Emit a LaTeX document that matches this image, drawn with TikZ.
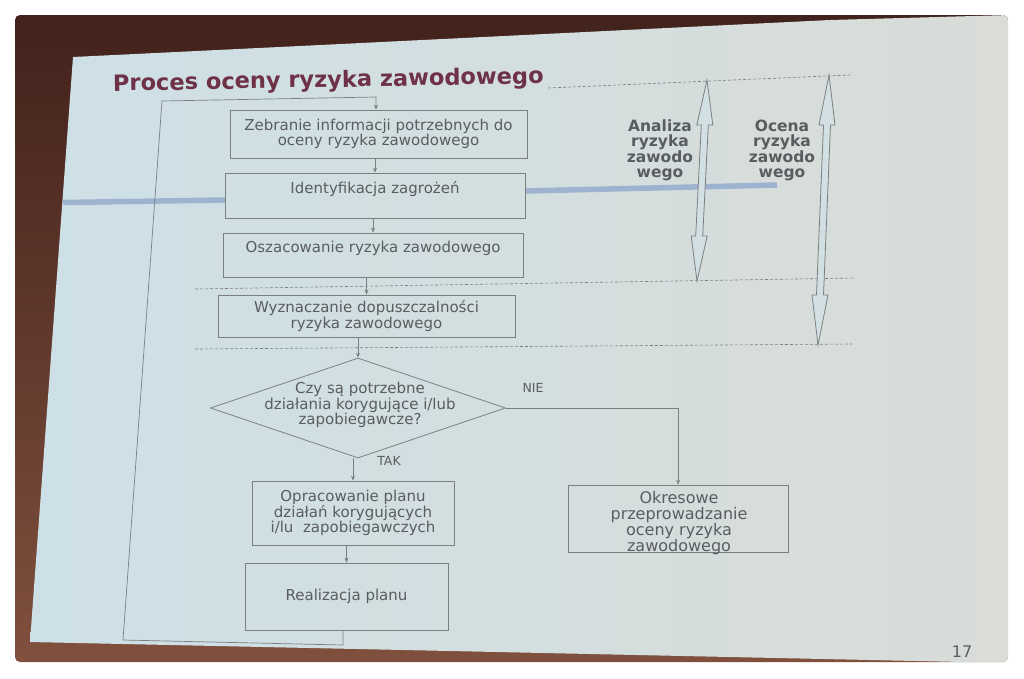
\documentclass[tikz,border=0pt]{standalone}
\usepackage{fontspec}
\setmainfont{DejaVu Sans}
\usetikzlibrary{shapes.geometric,arrows.meta}
\definecolor{brownTop}{HTML}{42221C}
\definecolor{brownBot}{HTML}{80503D}
\definecolor{slideL}{HTML}{CDE0E7}
\definecolor{slideR}{HTML}{D9DCD7}
\definecolor{arrFill}{HTML}{D3E0E3}
\definecolor{lineC}{HTML}{7B7F80}
\definecolor{txtC}{HTML}{5A5D5F}
\definecolor{titleC}{HTML}{6E3147}
\definecolor{bandC}{HTML}{9DB3CF}
\newcommand\bxf{\fontsize{15}{15.5}\selectfont}
\newcommand\okf{\fontsize{16}{16}\selectfont}
\newcommand\lblf{\fontsize{15.5}{15}\selectfont\bfseries}
\newcommand\smf{\fontsize{12.5}{13}\selectfont}
\begin{document}
\begin{tikzpicture}[x=1pt,y=-1pt,
  box/.style={draw=lineC, line width=0.8pt, text=txtC, font=\bxf, inner sep=0pt},
  mbox/.style={box, align=center},
  conn/.style={draw=lineC, line width=0.7pt, -{Stealth[length=5pt,width=4pt]}},
  dashln/.style={draw=lineC, line width=0.6pt, dash pattern=on 3pt off 2pt},
  hollow/.style={draw=lineC, line width=0.8pt, fill=arrFill},
  band/.style={draw=bandC, line width=5.5pt},
  side/.style={text=txtC, font=\lblf, align=center, inner sep=0pt},
  tag/.style={text=txtC, font=\smf, inner sep=0pt}]
\useasboundingbox (0,0) rectangle (1024,678);
\fill[white] (0,0) rectangle (1024,678);
\begin{scope}
  \clip[rounded corners=5pt] (15,15) rectangle (1008,662);
  \shade[top color=brownTop, bottom color=brownBot] (15,15) rectangle (1008,662);
  \shade[left color=slideL, right color=slideR] (73,57) -- (300,46) -- (830,20) -- (1010,15) -- (1010,663) -- (30,642) -- cycle;
\end{scope}
% title
\node[anchor=base west, text=titleC, font=\fontsize{22.5}{22.5}\selectfont\bfseries, inner sep=0pt, rotate=1] (title) at (113,91) {Proces oceny ryzyka zawodowego};
% blue band
\draw[band] (63,202.5) -- (225,200);
\draw[band] (525,191) -- (777,185);
% dashed lines
\draw[dashln] (548,88) -- (850,75);
\draw[dashln] (195,289) -- (855,278);
\draw[dashln] (195,349) -- (852,344);
% double arrows
\draw[hollow] (707,80) -- (712.8,125) -- (708.3,125) -- (702.7,236) -- (707.2,236) -- (697,281) -- (691.2,236) -- (695.7,236) -- (701.3,125) -- (696.8,125) -- cycle;
\draw[hollow] (829,75) -- (835,125) -- (830.5,125) -- (823.5,295) -- (828,295) -- (818,345) -- (812,295) -- (816.5,295) -- (823.5,125) -- (819,125) -- cycle;
\node[side] (an) at (660,150) {Analiza\\ryzyka\\zawodo\\wego};
\node[side] (oc) at (782,150) {Ocena\\ryzyka\\zawodo\\wego};
% boxes
\node[mbox, minimum width=297pt, minimum height=48pt] (b1) at (378.5,134) {Zebranie informacji potrzebnych do\\oceny ryzyka zawodowego};
\node[box, minimum width=300pt, text height=20pt, text depth=25pt] (b2) at (375,195.5) {Identyfikacja zagrożeń};
\node[box, minimum width=300pt, text height=19pt, text depth=25pt] (b3) at (373,255) {Oszacowanie ryzyka zawodowego};
\node[mbox, minimum width=297pt, minimum height=42pt] (b4) at (366.5,316) {Wyznaczanie dopuszczalności\\ryzyka zawodowego};
\node[draw=lineC, line width=0.8pt, diamond, aspect=2.95, minimum width=295pt, minimum height=100pt, inner sep=0pt] (dec) at (358,408) {};
\node[text=txtC, font=\bxf, align=center, inner sep=0pt] (dect) at (360,405) {Czy są potrzebne\\działania korygujące i/lub\\zapobiegawcze?};
\node[mbox, minimum width=202pt, minimum height=64pt] (b5) at (353,513) {Opracowanie planu\\działań korygujących\\i/lu\ \ zapobiegawczych};
\node[mbox, minimum width=203pt, minimum height=67pt] (b6) at (346.5,596.5) {Realizacja planu};
\node[box, minimum width=220pt, minimum height=67pt] (b7) at (678,518.5) {};
\node[text=txtC, font=\okf, align=center, inner sep=0pt] (b7t) at (679,523) {Okresowe\\przeprowadzanie\\oceny ryzyka\\zawodowego};
% labels
\node[tag] (nie) at (533,388) {NIE};
\node[tag] (tak) at (389,461) {TAK};
\node[text=txtC, font=\fontsize{16}{16}\selectfont, inner sep=0pt] (pg) at (962,652) {17};
% connectors
\draw[conn] (b2.north |- b1.south) -- (b2.north);
\draw[conn] (b3.north |- b2.south) -- (b3.north);
\draw[conn] (b4.north |- b3.south) -- (b4.north);
\draw[conn] (dec.north |- b4.south) -- (dec.north);
\draw[conn] (b5.north |- dec.south) -- (b5.north);
\draw[conn] (b6.north |- b5.south) -- (b6.north);
\draw[conn] (dec.east) -- (dec.east -| b7.north) -- (b7.north);
\coordinate (l1) at (343,645);
\coordinate (l2) at (123,640);
\coordinate (l3) at (162,101);
\coordinate (l4) at (376,97);
\draw[conn] ([xshift=-3.5pt]b6.south) -- (l1) -- (l2) -- (l3) -- (l4) -- (l4 |- b1.north);
\end{tikzpicture}
\end{document}
